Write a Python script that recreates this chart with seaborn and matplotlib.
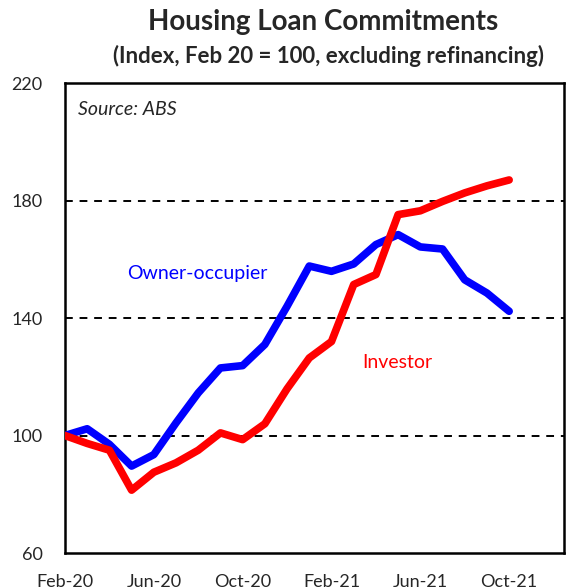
import matplotlib
matplotlib.use("Agg")
import matplotlib.pyplot as plt
import seaborn as sns
import pandas as pd

# monthly index, Feb-20 .. Oct-21
months = ["Feb-20", "Mar-20", "Apr-20", "May-20", "Jun-20", "Jul-20", "Aug-20",
          "Sep-20", "Oct-20", "Nov-20", "Dec-20", "Jan-21", "Feb-21", "Mar-21",
          "Apr-21", "May-21", "Jun-21", "Jul-21", "Aug-21", "Sep-21", "Oct-21"]
owner_occupier = [100, 102.3, 97, 89.6, 93.5, 104.3, 114.5, 123, 123.8, 131, 144,
                  157.7, 155.9, 158.4, 165, 168.4, 164.2, 163.5, 153, 148.5, 142.3]
investor = [100, 97.3, 95, 81.4, 87.5, 90.7, 95, 100.9, 98.6, 104, 115.9,
            126.4, 132, 151.4, 154.8, 175.2, 176.5, 179.7, 182.6, 185, 187]
tick_labels = ["Feb-20", "Jun-20", "Oct-20", "Feb-21", "Jun-21", "Oct-21"]

df = pd.DataFrame({
    "t": list(range(len(months))) * 2,
    "value": owner_occupier + investor,
    "series": ["Owner-occupier"] * len(months) + ["Investor"] * len(months),
})

sns.set_style("white")
plt.rcParams["font.family"] = ["Lato", "DejaVu Sans"]

fig = plt.figure(figsize=(5.66, 5.88), dpi=100)
ax = fig.add_axes([0.1148, 0.0595, 0.8817, 0.7993])

for y in [100, 140, 180, 220]:
    ax.axhline(y, color="black", lw=1.4, ls=(0, (4, 3.5)), zorder=1)

sns.lineplot(data=df, x="t", y="value", hue="series",
             palette={"Owner-occupier": "#0000ff", "Investor": "#ff0000"},
             linewidth=5.5, legend=False, ax=ax, zorder=3)

ax.set_xlim(0, 22.47)
ax.set_ylim(60, 220)
ax.set_yticks([60, 100, 140, 180, 220])
ax.set_xticks([months.index(m) for m in tick_labels])
ax.set_xticklabels(tick_labels)
ax.tick_params(axis="x", direction="in", length=5, width=1, pad=15, labelsize=13)
ax.tick_params(axis="y", length=0, pad=16, labelsize=13)
ax.set_xlabel("")
ax.set_ylabel("")
for s in ax.spines.values():
    s.set_color("black")
    s.set_linewidth(1.8)

ax.text(0.026, 0.962, "Source: ABS", transform=ax.transAxes, style="italic",
        fontsize=14, va="top", ha="left")
ax.text(2.8, 155.2, "Owner-occupier", color="#0000ff", fontsize=14, va="center")
ax.text(13.4, 125, "Investor", color="#ff0000", fontsize=14, va="center")

fig.text(0.571, 0.962, "Housing Loan Commitments", ha="center", va="center",
         fontsize=20, fontweight="bold")
fig.text(0.58, 0.905, "(Index, Feb 20 = 100, excluding refinancing)", ha="center",
         va="center", fontsize=16, fontweight="bold")

fig.savefig("out.png", dpi=100)
